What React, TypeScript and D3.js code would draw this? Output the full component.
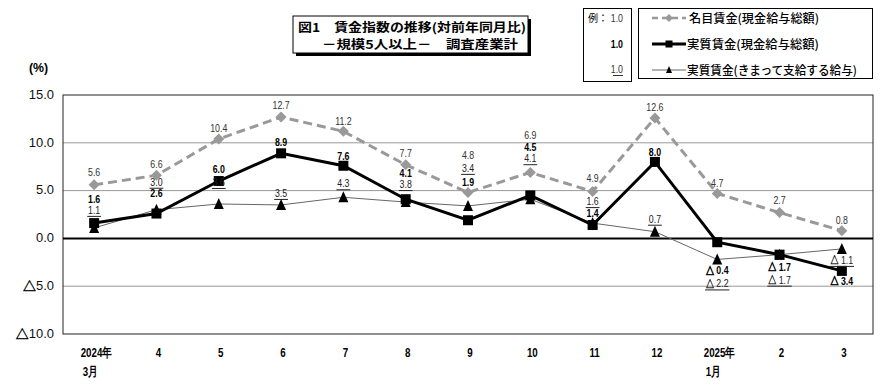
import React from "react";
import * as d3 from "d3";

const months = ["2024年|3月", "4", "5", "6", "7", "8", "9", "10", "11", "12", "2025年|1月", "2", "3"];
const nominalTotal = [5.6, 6.6, 10.4, 12.7, 11.2, 7.7, 4.8, 6.9, 4.9, 12.6, 4.7, 2.7, 0.8];
const realTotal = [1.6, 2.6, 6.0, 8.9, 7.6, 4.1, 1.9, 4.5, 1.4, 8.0, -0.4, -1.7, -3.4];
const realRegular = [1.1, 3.0, 3.6, 3.5, 4.3, 3.8, 3.4, 4.1, 1.6, 0.7, -2.2, -1.7, -1.1];
const yTicks = [15, 10, 5, 0, -5, -10];
const seriesNames = ["名目賃金(現金給与総額)", "実質賃金(現金給与総額)", "実質賃金(きまって支給する給与)"];
const titleLines = ["図1　賃金指数の推移(対前年同月比)", "－規模5人以上－　調査産業計"];

// label placement offsets (px, relative to marker)
const dyNominal = [-13, -11, -11, -12, -10, -12, -37, -37, -13, -11, -10, -12, -11];
const dyReal = [-24, -20, -12, -11, -10, -26, -38, -48, -12, -10, 28, 12, 10];
const dyRegular = [-18, -28, -22, -12, -14, -18, -38, -41, -22, -13, 24, 25, 11];

const NUM = "'Liberation Sans', Arial, sans-serif";
const JP = "'Noto Sans CJK JP', sans-serif";
const SX = 0.8;

const fmt = (v: number) => (v < 0 ? "△ " + Math.abs(v).toFixed(1) : v.toFixed(1));

function Num(props: any) {
  const { x, y, sx = SX, children, anchor = "middle", triSize, triStroke = 0.5, ...rest } = props;
  const s = String(children);
  const content = s.startsWith("△") ? (
    <>
      <tspan fontFamily={JP} fontSize={triSize} stroke="#000" strokeWidth={triStroke}>△</tspan>
      {s.slice(1)}
    </>
  ) : (
    s
  );
  return (
    <text transform={`translate(${x},${y}) scale(${sx},1)`} textAnchor={anchor} fontFamily={NUM} {...rest}>
      {content}
    </text>
  );
}

export default function App() {
  const W = 890, H = 384;
  const left = 63, right = 873, top = 95, bottom = 334;
  const x = d3.scaleBand<number>().domain(d3.range(months.length)).range([left, right]);
  const cx = (i: number) => (x(i) as number) + x.bandwidth() / 2;
  const y = d3.scaleLinear().domain([-10, 15]).range([bottom, top]);
  const line = d3.line<number>().x((_, i) => cx(i)).y((v) => y(v));

  const diamond = (px: number, py: number, r = 5, key?: any) => (
    <path key={key} d={`M${px},${py - r}L${px + r},${py}L${px},${py + r}L${px - r},${py}Z`} fill="#999" />
  );
  const square = (px: number, py: number, s = 9, key?: any) => (
    <rect key={key} x={px - s / 2} y={py - s / 2} width={s} height={s} fill="#000" />
  );
  const tri = (px: number, py: number, s = 9, key?: any) => (
    <path key={key} d={`M${px},${py - s / 2 - 1}L${px + s / 2},${py + s / 2}L${px - s / 2},${py + s / 2}Z`} fill="#000" />
  );

  const underlinedLabel = (txt: string, px: number, py: number, key: any) => {
    const w = txt.replace(" ", "").length * 4.6 + (txt.startsWith("△") ? 6 : 0);
    return (
      <g key={key}>
        <Num x={px} y={py} dominantBaseline="central" fontSize={11} triSize={10} triStroke={0.3} fill="#222">{txt}</Num>
        <line x1={px - w / 2} x2={px + w / 2} y1={py + 6.5} y2={py + 6.5} stroke="#222" strokeWidth={1} />
      </g>
    );
  };

  return (
    <svg width={W} height={H} style={{ position: "absolute", left: 0, top: 0, background: "#fff" }}>
      <rect width={W} height={H} fill="#fff" />
      {/* Title box */}
      <rect x={296} y={19} width={235} height={37} fill="#000" />
      <rect x={293} y={16} width={235} height={37} fill="#fff" stroke="#000" strokeWidth={1} />
      <text x={298} y={32} fontFamily={JP} fontSize={12} fontWeight="bold" textLength={228} lengthAdjust="spacingAndGlyphs">{titleLines[0]}</text>
      <text x={322} y={49} fontFamily={JP} fontSize={12} fontWeight="bold" textLength={196} lengthAdjust="spacingAndGlyphs">{titleLines[1]}</text>

      {/* Example box */}
      <rect x={583.5} y={8.5} width={48} height={73} fill="#fff" stroke="#000" />
      <text x={588} y={22} fontFamily={JP} fontSize={10}>例：</text>
      <Num x={623} y={22} anchor="end" fontSize={11} fill="#333">1.0</Num>
      <Num x={623} y={48} anchor="end" fontSize={11} fontWeight="bold">1.0</Num>
      <Num x={623} y={73} anchor="end" fontSize={11} fill="#333">1.0</Num>
      <line x1={613} x2={623} y1={75.5} y2={75.5} stroke="#333" />

      {/* Legend box */}
      <rect x={638.5} y={8.5} width={234} height={70} fill="#fff" stroke="#000" />
      <line x1={652} x2={686} y1={18} y2={18} stroke="#999" strokeWidth={2.5} strokeDasharray="6,4" />
      {diamond(669, 18, 4)}
      <text x={689} y={23} fontFamily={JP} fontSize={12} fontWeight={500} textLength={130} lengthAdjust="spacingAndGlyphs">{seriesNames[0]}</text>
      <line x1={652} x2={686} y1={44} y2={44} stroke="#000" strokeWidth={3} />
      {square(669, 44, 7)}
      <text x={687} y={49} fontFamily={JP} fontSize={12} fontWeight={500} textLength={132} lengthAdjust="spacingAndGlyphs">{seriesNames[1]}</text>
      <line x1={652} x2={686} y1={70} y2={70} stroke="#666" strokeWidth={1} />
      {tri(669, 70, 6)}
      <text x={687} y={75} fontFamily={JP} fontSize={12} fontWeight={500} textLength={170} lengthAdjust="spacingAndGlyphs">{seriesNames[2]}</text>

      {/* (%) */}
      <Num x={29} y={72} anchor="start" sx={0.95} fontSize={13} fontWeight="bold">(%)</Num>

      {/* grid */}
      {yTicks.map((t) => (
        <g key={t}>
          {t !== 0 && t !== 15 && t !== -10 && (
            <line x1={left} x2={right} y1={y(t)} y2={y(t)} stroke="#999" strokeWidth={1} />
          )}
          <Num x={54} y={y(t)} anchor="end" sx={1.08} dominantBaseline="central" fontSize={12} triStroke={0.4} fill="#111">
            {t < 0 ? "△" + Math.abs(t).toFixed(1) : t.toFixed(1)}
          </Num>
        </g>
      ))}
      <rect x={left} y={top} width={right - left} height={bottom - top} fill="none" stroke="#222" strokeWidth={1} />
      <line x1={left} x2={right} y1={y(0)} y2={y(0)} stroke="#000" strokeWidth={2} />

      {/* x labels */}
      {months.map((m, i) => {
        const parts = m.split("|");
        return (
          <g key={i}>
            <Num x={cx(i) + 2} y={357} sx={0.75} fontSize={13} fontWeight="bold">{parts[0]}</Num>
            {parts[1] && (
              <Num x={cx(i) - 4} y={376} sx={0.75} fontSize={13} fontWeight="bold">{parts[1]}</Num>
            )}
          </g>
        );
      })}

      {/* series lines */}
      <path d={line(realRegular) || ""} fill="none" stroke="#666" strokeWidth={1} />
      <path d={line(nominalTotal) || ""} fill="none" stroke="#999" strokeWidth={3} strokeDasharray="9,5" />
      <path d={line(realTotal) || ""} fill="none" stroke="#000" strokeWidth={3} />

      {nominalTotal.map((v, i) => diamond(cx(i), y(v), 5.5, "d" + i))}
      {realRegular.map((v, i) => tri(cx(i), y(v), 10, "t" + i))}
      {realTotal.map((v, i) => square(cx(i), y(v), 10, "s" + i))}

      {/* labels */}
      {nominalTotal.map((v, i) => (
        <Num key={"ln" + i} x={cx(i)} y={y(v) + dyNominal[i]} dominantBaseline="central" fontSize={11} fill="#333">{fmt(v)}</Num>
      ))}
      {realTotal.map((v, i) => (
        <Num key={"lr" + i} x={cx(i)} y={y(v) + dyReal[i]} dominantBaseline="central" fontSize={11} triSize={10} triStroke={0.7} fontWeight="bold" fill="#000">{fmt(v)}</Num>
      ))}
      {realRegular.map((v, i) => underlinedLabel(fmt(v), cx(i), y(v) + dyRegular[i], "lg" + i))}
    </svg>
  );
}
